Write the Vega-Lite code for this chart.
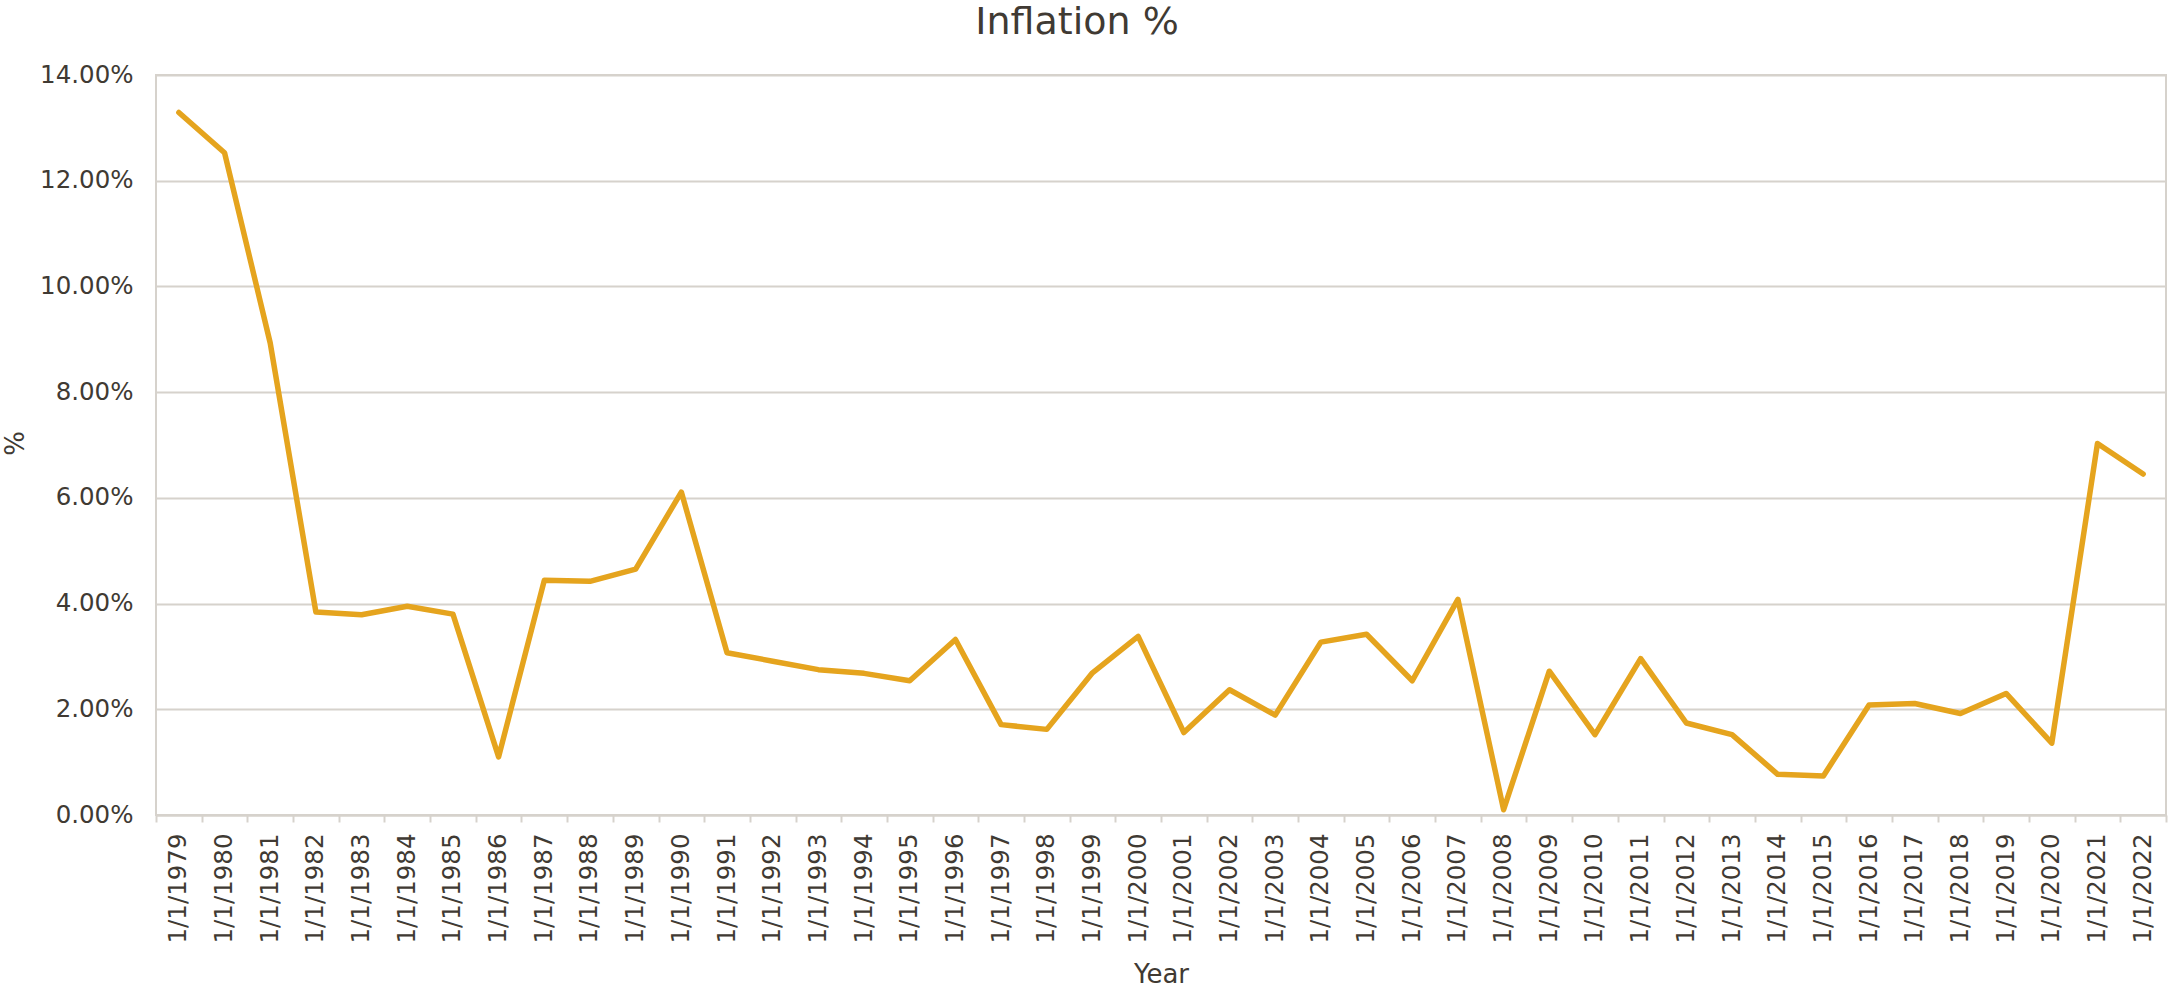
{
  "$schema": "https://vega.github.io/schema/vega-lite/v6.json",
  "autosize": "none",
  "width": 2010,
  "height": 740,
  "padding": {"left": 156, "top": 75, "right": 3, "bottom": 173},
  "background": "white",
  "title": {
    "text": "Inflation %",
    "font": "DejaVu Sans",
    "fontSize": 38,
    "fontWeight": "normal",
    "color": "#403A33",
    "anchor": "middle",
    "dx": -84,
    "offset": 20
  },
  "config": {
    "view": {"stroke": "#D6D2CC", "strokeWidth": 2},
    "axis": {
      "labelFont": "DejaVu Sans",
      "titleFont": "DejaVu Sans",
      "labelColor": "#403A33",
      "titleColor": "#403A33",
      "titleFontWeight": "normal",
      "gridColor": "#D6D2CC",
      "domainColor": "#D6D2CC",
      "tickColor": "#D6D2CC"
    }
  },
  "data": {
    "values": [
      {"Year": "1/1/1979", "Inflation": 0.1329},
      {"Year": "1/1/1980", "Inflation": 0.1253},
      {"Year": "1/1/1981", "Inflation": 0.0893},
      {"Year": "1/1/1982", "Inflation": 0.0384},
      {"Year": "1/1/1983", "Inflation": 0.0379},
      {"Year": "1/1/1984", "Inflation": 0.0395},
      {"Year": "1/1/1985", "Inflation": 0.0380},
      {"Year": "1/1/1986", "Inflation": 0.0110},
      {"Year": "1/1/1987", "Inflation": 0.0444},
      {"Year": "1/1/1988", "Inflation": 0.0442},
      {"Year": "1/1/1989", "Inflation": 0.0465},
      {"Year": "1/1/1990", "Inflation": 0.0611},
      {"Year": "1/1/1991", "Inflation": 0.0307},
      {"Year": "1/1/1992", "Inflation": 0.0291},
      {"Year": "1/1/1993", "Inflation": 0.0275},
      {"Year": "1/1/1994", "Inflation": 0.0268},
      {"Year": "1/1/1995", "Inflation": 0.0254},
      {"Year": "1/1/1996", "Inflation": 0.0332},
      {"Year": "1/1/1997", "Inflation": 0.0171},
      {"Year": "1/1/1998", "Inflation": 0.0162},
      {"Year": "1/1/1999", "Inflation": 0.0269},
      {"Year": "1/1/2000", "Inflation": 0.0338},
      {"Year": "1/1/2001", "Inflation": 0.0156},
      {"Year": "1/1/2002", "Inflation": 0.0237},
      {"Year": "1/1/2003", "Inflation": 0.0189},
      {"Year": "1/1/2004", "Inflation": 0.0327},
      {"Year": "1/1/2005", "Inflation": 0.0342},
      {"Year": "1/1/2006", "Inflation": 0.0254},
      {"Year": "1/1/2007", "Inflation": 0.0408},
      {"Year": "1/1/2008", "Inflation": 0.0010},
      {"Year": "1/1/2009", "Inflation": 0.0272},
      {"Year": "1/1/2010", "Inflation": 0.0152},
      {"Year": "1/1/2011", "Inflation": 0.0296},
      {"Year": "1/1/2012", "Inflation": 0.0174},
      {"Year": "1/1/2013", "Inflation": 0.0152},
      {"Year": "1/1/2014", "Inflation": 0.0077},
      {"Year": "1/1/2015", "Inflation": 0.0074},
      {"Year": "1/1/2016", "Inflation": 0.0208},
      {"Year": "1/1/2017", "Inflation": 0.0211},
      {"Year": "1/1/2018", "Inflation": 0.0192},
      {"Year": "1/1/2019", "Inflation": 0.0230},
      {"Year": "1/1/2020", "Inflation": 0.0136},
      {"Year": "1/1/2021", "Inflation": 0.0703},
      {"Year": "1/1/2022", "Inflation": 0.0645}
    ]
  },
  "mark": {
    "type": "line",
    "color": "#E5A41E",
    "strokeWidth": 5.5,
    "strokeCap": "round",
    "strokeJoin": "round"
  },
  "encoding": {
    "x": {
      "field": "Year",
      "type": "ordinal",
      "sort": null,
      "bandPosition": 0.5,
      "scale": {"type": "band", "paddingInner": 0, "paddingOuter": 0},
      "axis": {
        "title": "Year",
        "titleFontSize": 26,
        "titlePadding": 18,
        "labelFontSize": 24.5,
        "labelAngle": 270,
        "labelPadding": 11,
        "tickSize": 7,
        "tickWidth": 2,
        "tickBand": "extent",
        "domainWidth": 2,
        "grid": false,
        "labelOverlap": false
      }
    },
    "y": {
      "field": "Inflation",
      "type": "quantitative",
      "scale": {"domain": [0, 0.14], "nice": false},
      "axis": {
        "title": "%",
        "titleFontSize": 26,
        "titleAngle": -90,
        "titleBaseline": "middle",
        "titleAlign": "center",
        "titleX": -141,
        "titleY": 368,
        "format": ".2%",
        "values": [0, 0.02, 0.04, 0.06, 0.08, 0.1, 0.12, 0.14],
        "labelFontSize": 24.5,
        "labelPadding": 23,
        "ticks": false,
        "domain": false,
        "grid": true,
        "gridWidth": 2
      }
    }
  }
}
